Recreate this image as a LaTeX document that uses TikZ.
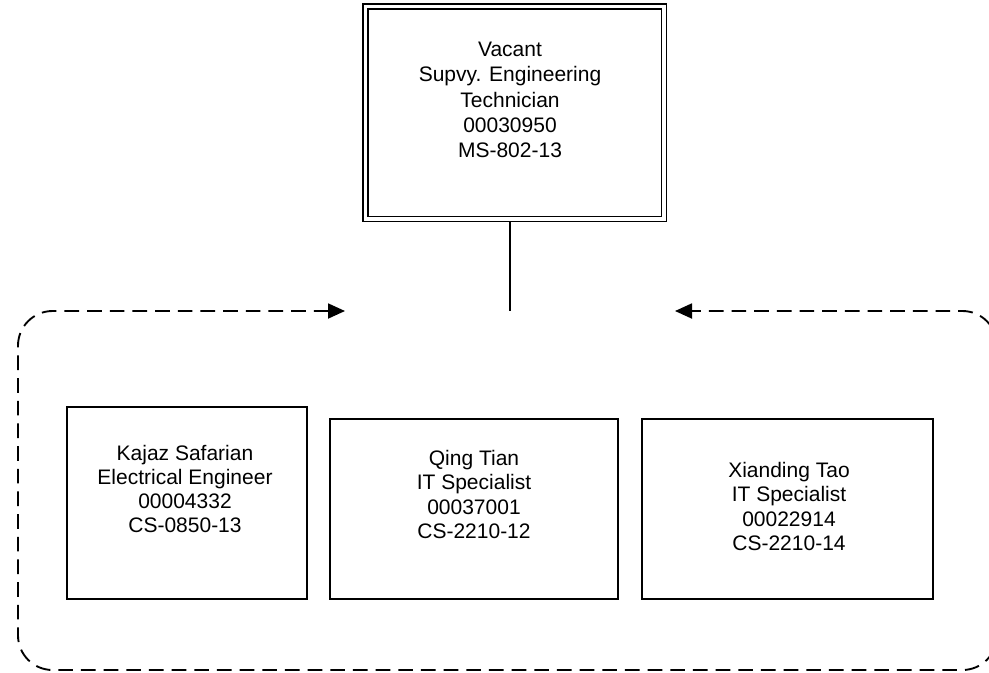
\documentclass[tikz,border=0pt]{standalone}
\usepackage{fontspec}
\setmainfont{Liberation Sans}
\usetikzlibrary{arrows.meta}

\begin{document}
\begin{tikzpicture}[x=0.75pt,y=-0.75pt,>={Triangle[length=12.75pt,width=11.25pt]},
    posbox/.style={draw,line width=1.4pt,inner sep=0pt,outer sep=0pt},
    headbox/.style={draw,line width=1.1pt,double,double distance=2.6pt,inner sep=0pt,outer sep=2.4pt},
    postext/.style={align=center,inner sep=0pt,font=\fontsize{15.75}{18.2}\selectfont},
    frame/.style={line width=1.4pt,dash pattern=on 11pt off 6pt,rounded corners=26pt}]
  \useasboundingbox (0,0) rectangle (989,672);
  % supervisor
  \node[headbox,minimum width=223.9pt,minimum height=159.4pt] (vacant) at (514.75,112.75) {};
  \node[postext,font=\fontsize{15.75}{19}\selectfont] (vacanttxt) at (510,100)
    {Vacant\\Supvy. Engineering\\Technician\\00030950\\MS-802-13};
  % staff boxes
  \node[posbox,minimum width=180pt,minimum height=144pt] (kajaz) at (187,503) {};
  \node[postext] (kajaztxt) at (185,489)
    {Kajaz Safarian\\Electrical Engineer\\00004332\\CS-0850-13};
  \node[posbox,minimum width=216pt,minimum height=135pt] (qing) at (474,509) {};
  \node[postext] (qingtxt) at (474,494.5)
    {Qing Tian\\IT Specialist\\00037001\\CS-2210-12};
  \node[posbox,minimum width=218.25pt,minimum height=135pt] (xianding) at (787.5,509) {};
  \node[postext] (xiandingtxt) at (789,506.5)
    {Xianding Tao\\IT Specialist\\00022914\\CS-2210-14};
  % reporting line and team frame
  \coordinate (join) at (510,311);
  \coordinate (tipL) at (345,311);
  \coordinate (tipR) at (675,311);
  \draw[line width=1.4pt] (vacant.south -| join) -- (join);
  \draw[frame,<->] (tipL) -- (18,311) -- (18,670) -- (997,670) -- (997,311) -- (tipR);
\end{tikzpicture}
\end{document}
